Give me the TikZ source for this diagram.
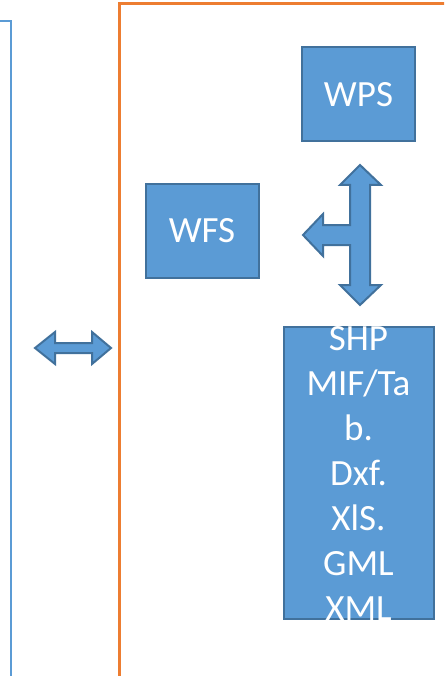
\documentclass[tikz,border=0pt]{standalone}
\usepackage{fontspec}
\setmainfont{Carlito}
\usepackage{tikz}

\definecolor{boxfill}{RGB}{91,155,213}
\definecolor{boxline}{RGB}{65,113,156}
\definecolor{frameorange}{RGB}{237,125,49}

\tikzset{
    service/.style={draw=boxline, fill=boxfill, line width=2pt, text=white,
        font=\fontsize{37}{44}\selectfont, inner sep=0pt},
    blockarrow/.style={draw=boxline, fill=boxfill, line width=2pt, line join=miter}
}

\begin{document}
\begin{tikzpicture}[x=1pt, y=-1pt]
        \useasboundingbox (0,0) rectangle (444,676);
        \clip (0,0) rectangle (444,676); % Clips the frames running off the page

        % the two frames, both cut by the page edge
        \draw[boxfill, line width=2.5pt] (-5,21) -- (11,21) -- (11,690);
        \draw[frameorange, line width=3pt] (119,690) -- (119,4) -- (460,4);

        % service boxes
        \node[service, minimum width=113pt, minimum height=94pt] (wps) at (358.5,94.5) {WPS};
        \node[service, minimum width=113pt, minimum height=94pt] (wfs) at (202,231) {WFS};
        \node[service, minimum width=150pt, minimum height=292pt] (data) at (358.5,473) {};
        \node[text=white, align=center, font=\fontsize{37}{45}\selectfont] (datatext) at (data.center)
            {SHP\\MIF/Ta\\b.\\Dxf.\\XlS.\\GML\\XML};

        % block arrows
        \draw[blockarrow] (35,348) -- (55,332) -- (55,343) -- (92,343) -- (92,332) -- (111,348)
            -- (92,364) -- (92,353) -- (55,353) -- (55,364) -- cycle;
        \draw[blockarrow] (360,165) -- (381,185) -- (370,185) -- (370,285) -- (381,285)
            -- (360,305) -- (340,285) -- (350,285) -- (350,245) -- (323,245) -- (323,256)
            -- (303,235) -- (323,214) -- (323,225) -- (350,225) -- (350,185) -- (340,185) -- cycle;
    \end{tikzpicture}
\end{document}
